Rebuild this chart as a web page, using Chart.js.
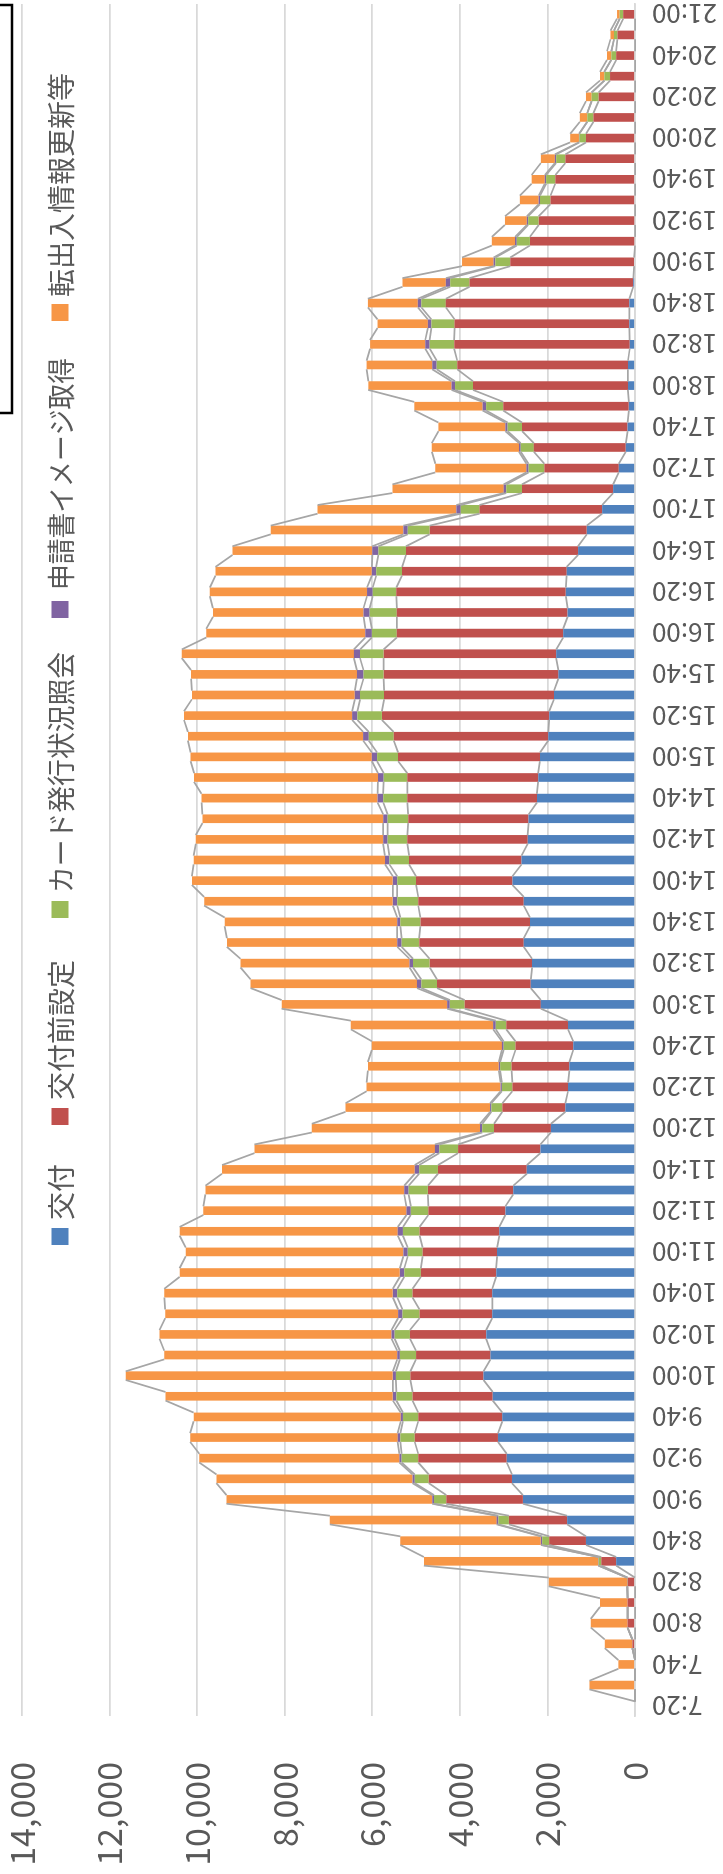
<!DOCTYPE html>
<html>
<head>
<meta charset="utf-8">
<script src="https://cdn.jsdelivr.net/npm/chart.js@4"></script>
<style>
  html, body { margin: 0; padding: 0; background: #fff; overflow: hidden; }
  #page { position: relative; width: 723px; height: 1874px; overflow: hidden; background: #fff; }
  /* the chart is laid out landscape and turned a quarter turn to stand upright */
  #frame { position: absolute; left: 0; top: 0; width: 1874px; height: 723px;
           transform-origin: 0 0; transform: translate(0, 1874px) rotate(-90deg); }
  canvas { display: block; }
</style>
</head>
<body>
<div id="page"><div id="frame"><canvas id="c" width="1874" height="723"></canvas></div></div>
<script>
// 10-minute time slots
const times = [
  '7:20','7:30','7:40','7:50','8:00','8:10','8:20','8:30','8:40','8:50',
  '9:00','9:10','9:20','9:30','9:40','9:50','10:00','10:10','10:20','10:30',
  '10:40','10:50','11:00','11:10','11:20','11:30','11:40','11:50','12:00','12:10',
  '12:20','12:30','12:40','12:50','13:00','13:10','13:20','13:30','13:40','13:50',
  '14:00','14:10','14:20','14:30','14:40','14:50','15:00','15:10','15:20','15:30',
  '15:40','15:50','16:00','16:10','16:20','16:30','16:40','16:50','17:00','17:10',
  '17:20','17:30','17:40','17:50','18:00','18:10','18:20','18:30','18:40','18:50',
  '19:00','19:10','19:20','19:30','19:40','19:50','20:00','20:10','20:20','20:30',
  '20:40','20:50','21:00'
];

// 交付
const issue = [
  0,0,0,0,0,0,0,430,1120,1550,
  2560,2810,2930,3130,3030,3250,3460,3300,3400,3260,
  3260,3170,3150,3100,2960,2780,2470,2160,1920,1590,
  1530,1500,1410,1530,2150,2380,2350,2540,2400,2540,
  2800,2590,2450,2430,2240,2210,2170,1980,1960,1850,
  1750,1800,1640,1540,1580,1560,1300,1100,750,500,
  370,210,170,140,160,160,120,130,130,40,
  20,0,0,0,0,0,0,0,0,0,
  0,0,0
];

// 交付前設定
const preset = [
  0,0,0,60,170,170,170,340,840,1330,
  1750,1900,2020,1900,1920,1830,1670,1700,1740,1660,
  1820,1720,1700,1820,1760,1950,2030,1880,1300,1440,
  1270,1320,1320,1410,1740,2140,2340,2390,2500,2410,
  2200,2570,2750,2750,2960,2990,3240,3530,3820,3880,
  3990,3940,3800,3900,3870,3760,3930,3590,2800,2080,
  1700,2100,2410,2870,3540,3900,4010,3990,4190,3740,
  2830,2400,2200,1930,1820,1590,1120,950,830,570,
  430,400,270
];

// カード発行状況照会
const cardStatus = [
  0,0,0,0,0,0,10,60,160,240,
  280,320,380,330,350,370,330,370,350,390,
  350,380,340,380,400,440,430,430,270,250,
  240,260,270,240,340,360,380,400,460,480,
  430,450,450,470,550,540,480,570,560,550,
  460,540,570,620,540,590,630,500,430,360,
  360,300,330,390,410,470,560,530,560,440,
  340,300,240,240,210,210,150,140,160,130,
  110,80,80
];

// 申請書イメージ取得
const imageFetch = [
  0,0,0,0,0,0,0,10,30,40,
  40,50,50,60,50,80,70,60,70,100,
  100,100,100,120,100,100,100,100,50,30,
  30,30,40,60,60,100,80,100,70,100,
  100,100,100,100,130,130,120,130,120,120,
  150,140,150,140,130,100,140,100,100,60,
  50,40,50,80,80,100,100,80,80,100,
  40,40,30,30,30,30,10,0,0,0,
  0,0,0
];

// 転出入情報更新等
const moveUpdate = [
  0,1040,380,630,840,630,1790,3980,3210,3810,
  4700,4480,4570,4740,4730,5190,6100,5320,5300,5320,
  5220,5030,4970,4980,4640,4540,4400,4120,3840,3300,
  3060,2990,2970,3250,3780,3800,3860,3890,3940,4310,
  4590,4370,4280,4130,4020,4200,4140,4000,3840,3720,
  3790,3930,3630,3440,3590,3570,3190,3030,3170,2540,
  2080,1990,1530,1560,1900,1500,1260,1150,1140,990,
  720,530,500,430,300,320,200,170,130,100,
  100,80,60
];

const seriesNames = ['交付', '交付前設定', 'カード発行状況照会', '申請書イメージ取得', '転出入情報更新等'];
const seriesColors = ['#4F81BD', '#C0504D', '#9BBB59', '#8064A2', '#F79646'];
const seriesValues = [issue, preset, cardStatus, imageFetch, moveUpdate];

const valueTicks = [0, 2000, 4000, 6000, 8000, 10000, 12000, 14000];

const FONT = '"Noto Sans CJK JP", "Noto Sans", sans-serif';
const TEXT = '#595959';

// gray connector lines between the tops of each series in neighbouring bars
const seriesLines = {
  id: 'seriesLines',
  afterDatasetsDraw(chart) {
    const ctx = chart.ctx;
    ctx.save();
    ctx.strokeStyle = '#A6A6A6';
    ctx.lineWidth = 1.75;
    chart.data.datasets.forEach((ds, k) => {
      const bars = chart.getDatasetMeta(k).data;
      ctx.beginPath();
      for (let i = 0; i < bars.length - 1; i++) {
        const a = bars[i], b = bars[i + 1];
        ctx.moveTo(a.x + a.width / 2, a.y);
        ctx.lineTo(b.x - b.width / 2, b.y);
      }
      ctx.stroke();
    });
    ctx.restore();
  }
};

// legend row over the upper part of the plot, plus the framed box edge
const legendSlots = [
  { box: 629, text: 654, width: 57 },
  { box: 749, text: 774, width: 143 },
  { box: 956, text: 981, width: 241 },
  { box: 1256, text: 1284, width: 232 },
  { box: 1553, text: 1577, width: 234 }
];
const legendRow = {
  id: 'legendRow',
  afterDraw(chart) {
    const ctx = chart.ctx;
    ctx.save();
    ctx.font = '28px ' + FONT;
    ctx.textBaseline = 'middle';
    ctx.textAlign = 'left';
    const cy = 60;
    chart.data.datasets.forEach((ds, k) => {
      const s = legendSlots[k];
      ctx.fillStyle = ds.backgroundColor;
      ctx.fillRect(s.box, cy - 8.5, 17, 17);
      ctx.fillStyle = TEXT;
      ctx.fillText(ds.label, s.text, cy + 1, s.width);
    });
    ctx.strokeStyle = '#000';
    ctx.lineWidth = 2.5;
    ctx.strokeRect(1461, -10, 408, 22);
    ctx.restore();
  }
};

new Chart(document.getElementById('c'), {
  type: 'bar',
  data: {
    labels: times,
    datasets: seriesNames.map((name, k) => ({
      label: name,
      data: seriesValues[k],
      backgroundColor: seriesColors[k],
      borderWidth: 0,
      barPercentage: 0.42,
      categoryPercentage: 1.0
    }))
  },
  options: {
    responsive: false,
    animation: false,
    devicePixelRatio: 1,
    layout: { padding: { top: 22, right: 4, left: 0, bottom: 0 } },
    plugins: { legend: { display: false }, tooltip: { enabled: false } },
    scales: {
      x: {
        stacked: true,
        offset: true,
        grid: { display: true, color: 'rgba(0,0,0,0)', drawTicks: false },
        border: { display: true, color: '#D9D9D9', width: 1.75 },
        ticks: {
          autoSkip: false,
          maxRotation: 90,
          minRotation: 90,
          padding: 17,
          color: TEXT,
          font: { family: FONT, size: 26 },
          callback(value, index) { return index % 2 === 0 ? times[index] : ''; }
        },
        afterFit(scale) {
          scale.height = 88;
          scale.paddingLeft = 0;
          scale.paddingRight = 0;
        }
      },
      y: {
        stacked: true,
        min: valueTicks[0],
        max: valueTicks[valueTicks.length - 1],
        afterBuildTicks(scale) { scale.ticks = valueTicks.map(v => ({ value: v })); },
        grid: { color: '#D9D9D9', lineWidth: 1.75, drawTicks: false },
        border: { display: false },
        ticks: {
          padding: 46,
          color: TEXT,
          font: { family: FONT, size: 34 },
          callback(value) { return value.toLocaleString('en-US'); }
        },
        afterFit(scale) {
          scale.width = 158;
          scale.paddingTop = 0;
          scale.paddingBottom = 0;
        }
      }
    }
  },
  plugins: [seriesLines, legendRow]
});
</script>
</body>
</html>
